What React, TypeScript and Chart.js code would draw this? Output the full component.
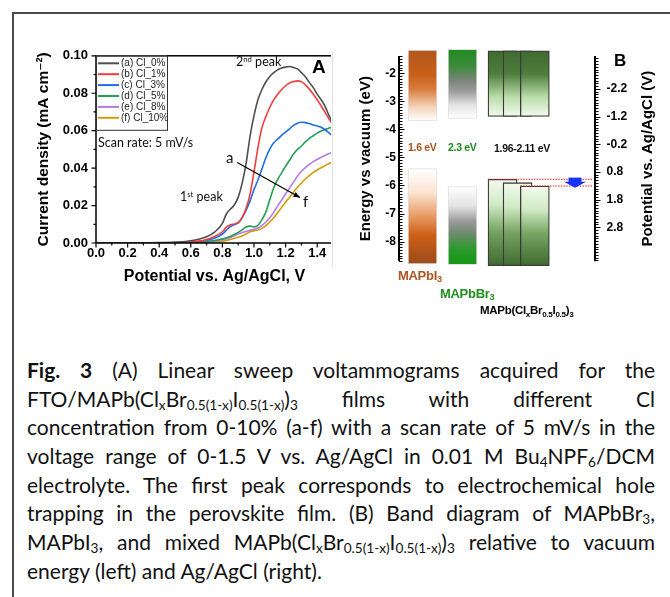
import React, { useEffect, useRef } from "react";
import { Chart, registerables } from "chart.js";
Chart.register(...registerables);

const SANS = "'Liberation Sans', Arial, 'DejaVu Sans', sans-serif";
const HUM = "Lato, 'Open Sans', sans-serif";

// ---------- Panel A data ----------
const potential = [0, 0.1, 0.2, 0.3, 0.4, 0.5, 0.55, 0.6, 0.65, 0.7, 0.75, 0.8, 0.825, 0.85, 0.875, 0.9, 0.925, 0.95, 0.975, 1.0, 1.025, 1.05, 1.075, 1.1, 1.125, 1.15, 1.175, 1.2, 1.225, 1.25, 1.275, 1.3, 1.325, 1.35, 1.375, 1.4, 1.425, 1.45, 1.475, 1.5];
const cl0 = [0, 0, 0, 0.0001, 0.0002, 0.0004, 0.0007, 0.0012, 0.002, 0.0033, 0.0058, 0.0105, 0.0155, 0.018, 0.0203, 0.0245, 0.032, 0.0425, 0.057, 0.068, 0.0765, 0.082, 0.086, 0.089, 0.091, 0.0925, 0.0935, 0.094, 0.0943, 0.0938, 0.093, 0.091, 0.0888, 0.0858, 0.083, 0.0795, 0.0765, 0.073, 0.068, 0.064];
const cl1 = [0, 0, 0, 0, 0.0001, 0.0002, 0.0003, 0.0005, 0.001, 0.0018, 0.0035, 0.006, 0.0085, 0.0098, 0.0102, 0.011, 0.0135, 0.0185, 0.026, 0.038, 0.051, 0.0615, 0.0675, 0.0725, 0.0765, 0.0795, 0.082, 0.084, 0.0855, 0.0862, 0.0866, 0.0862, 0.0845, 0.0822, 0.0795, 0.0765, 0.0732, 0.0698, 0.0662, 0.063];
const cl3 = [0, 0, 0, 0, 0.0001, 0.0002, 0.0003, 0.0004, 0.0008, 0.0015, 0.0025, 0.0048, 0.0068, 0.0088, 0.0098, 0.0108, 0.0135, 0.0175, 0.0225, 0.0285, 0.0337, 0.0395, 0.0455, 0.0502, 0.0535, 0.0555, 0.0575, 0.0592, 0.061, 0.0628, 0.064, 0.0645, 0.0643, 0.0638, 0.063, 0.0625, 0.0618, 0.0605, 0.0588, 0.057];
const cl5 = [0, 0, 0, 0, 0, 0.0001, 0.0001, 0.0002, 0.0004, 0.0008, 0.0013, 0.0022, 0.0028, 0.0035, 0.0045, 0.0057, 0.007, 0.0085, 0.009, 0.0086, 0.0095, 0.0125, 0.0165, 0.0232, 0.0295, 0.034, 0.0375, 0.041, 0.0442, 0.0475, 0.05, 0.0518, 0.054, 0.0558, 0.0573, 0.0587, 0.0598, 0.0606, 0.0614, 0.062];
const cl8 = [0, 0, 0, 0, 0, 0, 0.0001, 0.0001, 0.0003, 0.0005, 0.0009, 0.0017, 0.0023, 0.003, 0.0038, 0.0048, 0.0056, 0.0062, 0.0068, 0.0073, 0.008, 0.0093, 0.0112, 0.0135, 0.0165, 0.0198, 0.023, 0.0263, 0.0293, 0.0325, 0.0357, 0.0383, 0.0403, 0.042, 0.0435, 0.0446, 0.0458, 0.0468, 0.0478, 0.0487];
const cl10 = [0, 0, 0, 0, 0, 0, 0, 0.0001, 0.0002, 0.0003, 0.0005, 0.001, 0.0014, 0.0019, 0.0025, 0.0031, 0.0038, 0.0048, 0.006, 0.0065, 0.007, 0.0078, 0.0093, 0.0112, 0.0135, 0.0163, 0.019, 0.0218, 0.0245, 0.0272, 0.0298, 0.032, 0.0342, 0.036, 0.0377, 0.039, 0.0402, 0.0413, 0.0425, 0.0435];
const seriesValues = [cl0, cl1, cl3, cl5, cl8, cl10];
const seriesLabels = ["(a) Cl_0%", "(b) Cl_1%", "(c) Cl_3%", "(d) Cl_5%", "(e) Cl_8%", "(f) Cl_10%"];
const seriesColors = ["#4f4f4f", "#f23d3d", "#1f6fe0", "#23a055", "#b47be6", "#d39c0c"];
const xTicksA = [0, 0.2, 0.4, 0.6, 0.8, 1.0, 1.2, 1.4];
const yTicksA = [0, 0.02, 0.04, 0.06, 0.08, 0.1];
const trendArrowFrom = [0.894, 0.043];
const trendArrowTo = [1.291, 0.0243];

// ---------- Panel B data ----------
const materials = ["MAPbI3", "MAPbBr3", "Mixed 1", "Mixed 2", "Mixed 3"];
const cbTop = [-1.17, -1.15, -1.2, -1.2, -1.2];
const cbBottom = [-3.7, -3.61, -3.54, -3.54, -3.54];
const vbTop = [-5.4, -6.04, -5.78, -5.9, -6.02];
const vbBottom = [-8.8, -8.82, -8.86, -8.86, -8.86];
const energyTicks = [-2, -3, -4, -5, -6, -7, -8];
const potentialTicks = [-2.2, -1.2, -0.2, 0.8, 1.8, 2.8];

// layout / style for panel B
const columnSlot = [1.2, 3.24, 5.28, 6.05, 6.93];
const arrowSlot = 8.98;
const cbStops = [
  [[0, "#b0561e"], [0.35, "#c95f18"], [0.55, "#d97c3c"], [0.8, "#f4d2b8"], [1, "#ffffff"]],
  [[0, "#1f8c1f"], [0.25, "#3e8a3e"], [0.45, "#7a857a"], [0.6, "#9a9a9a"], [0.8, "#e2e2e2"], [1, "#ffffff"]],
  [[0, "#3f6b30"], [0.35, "#4e7d3c"], [0.7, "#b8dca8"], [1, "#f3fbee"]],
  [[0, "#3f6b30"], [0.35, "#4e7d3c"], [0.7, "#b8dca8"], [1, "#f3fbee"]],
  [[0, "#3f6b30"], [0.35, "#4e7d3c"], [0.7, "#b8dca8"], [1, "#f3fbee"]],
];
const vbStops = [
  [[0, "#ffffff"], [0.25, "#fbe3d2"], [0.5, "#e69a62"], [0.7, "#cd5f16"], [1, "#9c4a1b"]],
  [[0, "#ffffff"], [0.25, "#e3e3e3"], [0.45, "#999999"], [0.6, "#6f8a6f"], [0.8, "#2b9a2b"], [1, "#169616"]],
  [[0, "#f3fbee"], [0.3, "#cfe9c3"], [0.6, "#76a462"], [1, "#3f6b30"]],
  [[0, "#f3fbee"], [0.3, "#cfe9c3"], [0.6, "#76a462"], [1, "#3f6b30"]],
  [[0, "#f3fbee"], [0.3, "#cfe9c3"], [0.6, "#76a462"], [1, "#3f6b30"]],
];

function grad(chart: any, top: number, bottom: number, stops: any[]) {
  const y = chart.scales.y;
  const g = chart.ctx.createLinearGradient(0, y.getPixelForValue(top), 0, y.getPixelForValue(bottom));
  stops.forEach(([o, c]: any) => g.addColorStop(o, c));
  return g;
}

const pluginA = {
  id: "axesA",
  afterDatasetsDraw(chart: any) {
    const { ctx, chartArea: ca, scales } = chart;
    const x = scales.x, y = scales.y;
    ctx.save();
    // arrow
    const ax1 = x.getPixelForValue(trendArrowFrom[0]), ay1 = y.getPixelForValue(trendArrowFrom[1]);
    const ax2 = x.getPixelForValue(trendArrowTo[0]), ay2 = y.getPixelForValue(trendArrowTo[1]);
    ctx.strokeStyle = "#000"; ctx.fillStyle = "#000"; ctx.lineWidth = 1.2;
    ctx.beginPath(); ctx.moveTo(ax1, ay1); ctx.lineTo(ax2, ay2); ctx.stroke();
    const ang = Math.atan2(ay2 - ay1, ax2 - ax1);
    ctx.beginPath();
    ctx.moveTo(ax2, ay2);
    ctx.lineTo(ax2 - 7 * Math.cos(ang - 0.4), ay2 - 7 * Math.sin(ang - 0.4));
    ctx.lineTo(ax2 - 7 * Math.cos(ang + 0.4), ay2 - 7 * Math.sin(ang + 0.4));
    ctx.closePath(); ctx.fill();
    // frame
    ctx.lineWidth = 1.5;
    ctx.strokeRect(ca.left, ca.top, ca.right - ca.left, ca.bottom - ca.top);
    // ticks
    ctx.lineWidth = 1.2;
    ctx.beginPath();
    for (let i = 0; i <= 15; i++) {
      const px = x.getPixelForValue(i / 10);
      ctx.moveTo(px, ca.bottom); ctx.lineTo(px, ca.bottom + (i % 2 === 0 ? 4.5 : 2.5));
    }
    for (let i = 0; i <= 10; i++) {
      const py = y.getPixelForValue(i / 100);
      ctx.moveTo(ca.left, py); ctx.lineTo(ca.left - (i % 2 === 0 ? 4.5 : 2.5), py);
    }
    ctx.stroke();
    // legend
    const lx = ca.left, ly = ca.top, lw = 71, lh = 74;
    ctx.fillStyle = "#fff"; ctx.fillRect(lx, ly, lw, lh);
    ctx.strokeStyle = "#333"; ctx.lineWidth = 1;
    ctx.strokeRect(lx + 0.5, ly + 0.5, lw, lh);
    ctx.font = `10px ${SANS}`; ctx.textBaseline = "middle"; ctx.textAlign = "left";
    seriesLabels.forEach((lab, i) => {
      const yy = ly + 7.5 + i * 10.9;
      ctx.strokeStyle = seriesColors[i]; ctx.lineWidth = 2;
      ctx.beginPath(); ctx.moveTo(lx + 2, yy); ctx.lineTo(lx + 23, yy); ctx.stroke();
      ctx.fillStyle = "#222"; ctx.fillText(lab, lx + 25, yy);
    });
    ctx.restore();
  },
};

const pluginB = {
  id: "axesB",
  afterDatasetsDraw(chart: any) {
    const { ctx, chartArea: ca, scales } = chart;
    const y = scales.y, y2 = scales.y2, x = scales.x;
    ctx.save();
    // red dotted lines
    const meta = chart.getDatasetMeta(0);
    const b1 = meta.data[2], b3 = meta.data[4];
    ctx.strokeStyle = "#e41b1b"; ctx.lineWidth = 1; ctx.setLineDash([1.5, 1.2]);
    ctx.beginPath();
    const r1 = y.getPixelForValue(vbTop[2]), r2 = y.getPixelForValue(vbTop[4]);
    ctx.moveTo(b1.x - b1.width / 2, r1); ctx.lineTo(ca.right - 2, r1);
    ctx.moveTo(b3.x - b3.width / 2, r2); ctx.lineTo(ca.right - 2, r2);
    ctx.stroke();
    ctx.setLineDash([]);
    // blue arrow
    const axp = x.getPixelForValue(arrowSlot);
    const aTop = y.getPixelForValue(vbTop[2] + 0.06), aTip = y.getPixelForValue(vbTop[4] - 0.06);
    const mid = aTop + (aTip - aTop) * 0.4;
    ctx.fillStyle = "#1533f5";
    ctx.fillRect(axp - 6.5, aTop, 13, mid - aTop + 0.5);
    ctx.beginPath(); ctx.moveTo(axp - 11, mid); ctx.lineTo(axp + 11, mid); ctx.lineTo(axp, aTip); ctx.closePath(); ctx.fill();
    // axes
    ctx.strokeStyle = "#000"; ctx.lineWidth = 2;
    ctx.beginPath();
    ctx.moveTo(ca.left, ca.top); ctx.lineTo(ca.left, ca.bottom);
    ctx.moveTo(ca.right, ca.top); ctx.lineTo(ca.right, ca.bottom);
    ctx.stroke();
    ctx.lineWidth = 1;
    ctx.beginPath();
    for (let i = Math.ceil(y.min * 10); i <= Math.floor(y.max * 10); i++) {
      const py = Math.round(y.getPixelForValue(i / 10)) + 0.5;
      const major = i % 10 === 0;
      ctx.moveTo(ca.left, py); ctx.lineTo(ca.left + (major ? 5.5 : 3.5), py);
    }
    for (let i = Math.ceil(y2.min * 10); i <= Math.floor(y2.max * 10); i++) {
      const v = i / 10;
      const py = Math.round(y2.getPixelForValue(v)) + 0.5;
      const major = potentialTicks.some((t) => Math.abs(t - v) < 1e-6);
      ctx.moveTo(ca.right, py); ctx.lineTo(ca.right + (major ? 5.5 : 3.5), py);
    }
    ctx.stroke();
    // right axis title (reads bottom-to-top)
    ctx.translate(ca.right + 53, (ca.top + ca.bottom) / 2);
    ctx.rotate(-Math.PI / 2);
    ctx.font = `bold 15px ${SANS}`; ctx.fillStyle = "#000";
    ctx.textAlign = "center"; ctx.textBaseline = "middle";
    ctx.fillText("Potential vs. Ag/AgCl (V)", 0, 0);
    ctx.restore();
  },
};

const T = ({ x, y, children, style }: any) => (
  <div style={{ position: "absolute", left: x, top: y, transform: "translateY(-50%)", whiteSpace: "nowrap", lineHeight: 1, ...style }}>{children}</div>
);
const supS: any = { fontSize: "0.62em", verticalAlign: "0.55em", lineHeight: 0 };
const subS: any = { fontSize: "0.65em", verticalAlign: "-0.25em", lineHeight: 0 };
const subB: any = { fontSize: "0.7em", verticalAlign: "-0.3em", lineHeight: 0 };

export default function App() {
  const refA = useRef<HTMLCanvasElement>(null);
  const refB = useRef<HTMLCanvasElement>(null);

  useEffect(() => {
    const tickFont = { family: SANS, size: 13, weight: "bold" as const };
    const chartA = new Chart(refA.current!, {
      type: "line",
      data: {
        datasets: seriesValues.map((vals, i) => ({
          label: seriesLabels[i],
          data: potential.map((p, j) => ({ x: p, y: vals[j] })),
          borderColor: seriesColors[i],
          borderWidth: 1.6,
          pointRadius: 0,
          cubicInterpolationMode: "monotone" as const,
          fill: false,
        })),
      },
      options: {
        animation: false,
        responsive: false,
        maintainAspectRatio: false,
        layout: { padding: { top: 15, right: 3, left: 16, bottom: 0 } },
        plugins: { legend: { display: false }, tooltip: { enabled: false } },
        scales: {
          x: {
            type: "linear", min: 0, max: 1.5,
            afterBuildTicks: (s: any) => { s.ticks = xTicksA.map((v) => ({ value: v })); },
            afterFit: (s: any) => { s.height = 47; },
            grid: { display: false, drawTicks: false },
            border: { display: false },
            ticks: { padding: 3, color: "#000", font: tickFont, maxRotation: 0, callback: (v: any) => Number(v).toFixed(1) },
            title: { display: true, text: "Potential vs. Ag/AgCl, V", color: "#000", font: { family: SANS, size: 16, weight: "bold" }, padding: { top: 4, bottom: 4 } },
          },
          y: {
            type: "linear", min: 0, max: 0.1,
            afterBuildTicks: (s: any) => { s.ticks = yTicksA.map((v) => ({ value: v })); },
            afterFit: (s: any) => { s.width = 66; },
            grid: { display: false, drawTicks: false },
            border: { display: false },
            ticks: { padding: 8, color: "#000", font: tickFont, callback: (v: any) => Number(v).toFixed(2) },
            title: { display: true, text: "Current density (mA cm\u207B\u00B2)", color: "#000", font: { family: SANS, size: 15.5, weight: "bold" }, padding: { top: 4, bottom: 4 } },
          },
        },
      },
      plugins: [pluginA],
    });

    const bFont = { family: SANS, size: 12, weight: "bold" as const };
    const chartB = new Chart(refB.current!, {
      type: "bar",
      data: {
        datasets: [
          {
            label: "Valence band",
            data: materials.map((_, i) => ({ x: columnSlot[i], y: [vbBottom[i], vbTop[i]] })) as any,
            backgroundColor: (c: any) => (c.dataIndex === undefined || !c.chart.chartArea ? "rgba(0,0,0,0)" : grad(c.chart, vbTop[c.dataIndex], vbBottom[c.dataIndex], vbStops[c.dataIndex])),
            borderColor: (c: any) => (c.dataIndex >= 2 ? "#3a3a3a" : "rgba(0,0,0,0.12)"),
            borderWidth: (c: any) => (c.dataIndex >= 2 ? 1.3 : 1),
            borderSkipped: false,
            barThickness: 29,
            grouped: false,
            clip: false as any,
          },
          {
            label: "Conduction band",
            data: materials.map((_, i) => ({ x: columnSlot[i], y: [cbBottom[i], cbTop[i]] })) as any,
            backgroundColor: (c: any) => (c.dataIndex === undefined || !c.chart.chartArea ? "rgba(0,0,0,0)" : grad(c.chart, cbTop[c.dataIndex], cbBottom[c.dataIndex], cbStops[c.dataIndex])),
            borderColor: (c: any) => (c.dataIndex >= 2 ? "#3a3a3a" : "rgba(0,0,0,0.12)"),
            borderWidth: (c: any) => (c.dataIndex >= 2 ? 1.3 : 1),
            borderSkipped: false,
            barThickness: 29,
            grouped: false,
            clip: false as any,
          },
        ],
      },
      options: {
        animation: false,
        responsive: false,
        maintainAspectRatio: false,
        layout: { padding: { top: 26, right: 4, left: 18, bottom: 16 } },
        plugins: { legend: { display: false }, tooltip: { enabled: false } },
        scales: {
          x: { type: "linear", min: 0, max: 10, offset: false, display: false },
          y: {
            type: "linear", position: "left", min: -8.704, max: -1.384,
            afterBuildTicks: (s: any) => { s.ticks = energyTicks.map((v) => ({ value: v })); },
            afterFit: (s: any) => { s.width = 46; },
            grid: { display: false, drawTicks: false },
            border: { display: false },
            ticks: { padding: 3, color: "#000", font: bFont, callback: (v: any) => String(v) },
            title: { display: true, text: "Energy vs vacuum (eV)", color: "#000", font: { family: SANS, size: 15, weight: "bold" }, padding: { top: 4, bottom: 4 } },
          },
          y2: {
            type: "linear", position: "right", reverse: true, min: -3.388, max: 4.03,
            afterBuildTicks: (s: any) => { s.ticks = potentialTicks.map((v) => ({ value: v })); },
            afterFit: (s: any) => { s.width = 66; },
            grid: { display: false, drawTicks: false },
            border: { display: false },
            ticks: { padding: 11.5, color: "#000", font: bFont, callback: (v: any) => Number(v).toFixed(1) },
          },
        },
      },
      plugins: [pluginB],
    });

    return () => { chartA.destroy(); chartB.destroy(); };
  }, []);

  const line: any = { textAlign: "justify", textAlignLast: "justify", height: 28.7, lineHeight: "28.7px", whiteSpace: "nowrap" };

  return (
    <div style={{ position: "fixed", left: 0, top: 0, width: 670, height: 597, background: "#fff", overflow: "hidden", fontFamily: SANS }}>
      {/* frame */}
      <div style={{ position: "absolute", left: 12, top: 12, width: 700, height: 2, background: "#4a4a4a" }} />
      <div style={{ position: "absolute", left: 12, top: 12, width: 2, height: 600, background: "#4a4a4a" }} />
      <div style={{ position: "absolute", left: 332, top: 52, width: 1, height: 216, background: "#e2e2e2" }} />

      {/* Panel A */}
      <div style={{ position: "absolute", left: 14, top: 40, width: 317, height: 250, overflow: "hidden" }}>
        <canvas ref={refA} width={322} height={250} style={{ width: 322, height: 250, display: "block" }} />
      </div>
      <T x={236} y={62} style={{ fontFamily: HUM, fontSize: 12.5, color: "#111" }}>2<span style={supS}>nd</span> peak</T>
      <T x={180} y={197} style={{ fontFamily: HUM, fontSize: 12.5, color: "#111" }}>1<span style={supS}>st</span> peak</T>
      <T x={312} y={66} style={{ fontFamily: SANS, fontSize: 19, fontWeight: "bold", color: "#000" }}>A</T>
      <T x={98} y={143} style={{ fontFamily: HUM, fontSize: 12.5, color: "#111" }}>Scan rate: 5 mV/s</T>
      <T x={226} y={157} style={{ fontFamily: HUM, fontSize: 15, color: "#111" }}>a</T>
      <T x={303} y={201} style={{ fontFamily: HUM, fontSize: 15, color: "#111" }}>f</T>

      {/* Panel B */}
      <canvas ref={refB} width={330} height={250} style={{ position: "absolute", left: 335, top: 30, width: 330, height: 250 }} />
      <T x={614} y={60} style={{ fontSize: 17, fontWeight: "bold", color: "#000" }}>B</T>
      <T x={408} y={147} style={{ fontSize: 10.5, fontWeight: "bold", color: "#a65318", letterSpacing: -0.3 }}>1.6 eV</T>
      <T x={448} y={147} style={{ fontSize: 10.5, fontWeight: "bold", color: "#1d8a1d", letterSpacing: -0.3 }}>2.3 eV</T>
      <T x={494} y={148} style={{ fontSize: 10.5, fontWeight: "bold", color: "#111", letterSpacing: -0.3 }}>1.96-2.11 eV</T>
      <T x={398} y={275} style={{ fontSize: 13, fontWeight: "bold", color: "#ac5520", letterSpacing: -0.3 }}>MAPbI<span style={subB}>3</span></T>
      <T x={440} y={293} style={{ fontSize: 13, fontWeight: "bold", color: "#1f8f1f", letterSpacing: -0.3 }}>MAPbBr<span style={subB}>3</span></T>
      <T x={480} y={311} style={{ fontSize: 11.5, fontWeight: "bold", color: "#000", letterSpacing: -0.3 }}>MAPb(Cl<span style={subB}>x</span>Br<span style={subB}>0.5</span>I<span style={subB}>0.5</span>)<span style={subB}>3</span></T>

      {/* Caption */}
      <div style={{ position: "absolute", left: 27, top: 356, width: 628, fontFamily: HUM, fontSize: 21, color: "#111" }}>
        <div style={line}><b>Fig. 3</b> (A) Linear sweep voltammograms acquired for the</div>
        <div style={line}>FTO/MAPb(Cl<span style={subS}>x</span>Br<span style={subS}>0.5(1-x)</span>I<span style={subS}>0.5(1-x)</span>)<span style={subS}>3</span> films with different Cl</div>
        <div style={line}>concentration from 0-10% (a-f) with a scan rate of 5 mV/s in the</div>
        <div style={line}>voltage range of 0-1.5 V vs. Ag/AgCl in 0.01 M Bu<span style={subS}>4</span>NPF<span style={subS}>6</span>/DCM</div>
        <div style={line}>electrolyte. The first peak corresponds to electrochemical hole</div>
        <div style={line}>trapping in the perovskite film. (B) Band diagram of MAPbBr<span style={subS}>3</span>,</div>
        <div style={line}>MAPbI<span style={subS}>3</span>, and mixed MAPb(Cl<span style={subS}>x</span>Br<span style={subS}>0.5(1-x)</span>I<span style={subS}>0.5(1-x)</span>)<span style={subS}>3</span> relative to vacuum</div>
        <div style={{ ...line, textAlignLast: "left" }}>energy (left) and Ag/AgCl (right).</div>
      </div>
    </div>
  );
}
